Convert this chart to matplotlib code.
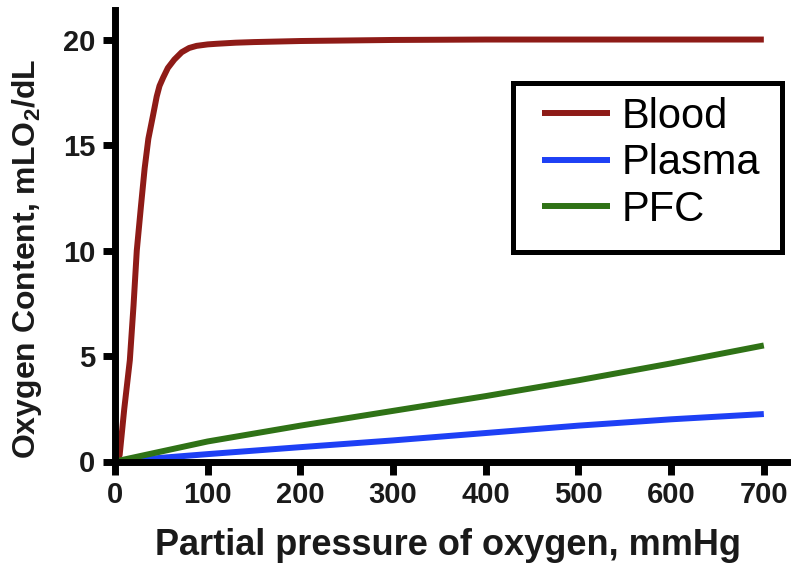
import matplotlib
matplotlib.use("Agg")
import matplotlib.pyplot as plt
from matplotlib.patches import Rectangle

plt.rcParams['font.family'] = ['Liberation Sans', 'DejaVu Sans']
plt.rcParams['mathtext.fontset'] = 'custom'
plt.rcParams['mathtext.bf'] = 'Liberation Sans:bold'
plt.rcParams['mathtext.rm'] = 'Liberation Sans:bold'
plt.rcParams['mathtext.default'] = 'bf'

# Data
blood_x = [0, 5, 10, 16, 20, 23.5, 28, 32, 36, 41, 45, 48, 52, 57, 64, 72, 80, 88, 100, 110, 130, 150, 200, 300, 400, 500, 600, 700]
blood_y = [0, 0.3, 2.5, 4.8, 7.4, 10.0, 12.1, 13.9, 15.3, 16.4, 17.3, 17.8, 18.2, 18.65, 19.05, 19.4, 19.6, 19.7, 19.77, 19.8, 19.85, 19.88, 19.93, 19.98, 20.0, 20.0, 20.0, 20.0]

plasma_x = [0, 100, 200, 300, 400, 500, 600, 700]
plasma_y = [0, 0.35, 0.68, 1.0, 1.35, 1.7, 2.0, 2.25]

pfc_x = [0, 100, 200, 300, 400, 500, 600, 700]
pfc_y = [0, 0.95, 1.7, 2.4, 3.1, 3.85, 4.65, 5.5]

series_labels = ['Blood', 'Plasma', 'PFC']
series_colors = ['#8E1B17', '#1E40F5', '#2F7216']

x_ticks = [0, 100, 200, 300, 400, 500, 600, 700]
y_ticks = [0, 5, 10, 15, 20]

W, H = 800, 574
fig = plt.figure(figsize=(W / 100, H / 100), dpi=100)
ax = fig.add_axes([115 / W, 1 - 461.5 / H, (787 - 115) / W, (461.5 - 10) / H])

lw = 4.3
ax.plot(blood_x, blood_y, color=series_colors[0], lw=lw, label=series_labels[0], solid_capstyle='butt', solid_joinstyle='round', zorder=3)
ax.plot(plasma_x, plasma_y, color=series_colors[1], lw=lw, label=series_labels[1], solid_capstyle='butt', zorder=3)
ax.plot(pfc_x, pfc_y, color=series_colors[2], lw=lw, label=series_labels[2], solid_capstyle='butt', zorder=4)

ax.set_xlim(0, 725)
ax.set_ylim(0, 21.4)
ax.set_xticks(x_ticks)
ax.set_yticks(y_ticks)

for s in ['top', 'right']:
    ax.spines[s].set_visible(False)
for s in ['left', 'bottom']:
    ax.spines[s].set_linewidth(5)
    ax.spines[s].set_zorder(5)

ax.tick_params(axis='both', direction='out', length=9, width=5, labelsize=21, pad=5)
for lab in ax.get_xticklabels() + ax.get_yticklabels():
    lab.set_fontweight('bold')
    lab.set_color('#1a1a1a')

ax.set_xlabel('Partial pressure of oxygen, mmHg', fontsize=26, fontweight='bold', color='#1a1a1a')
ax.set_ylabel(r'Oxygen Content, mLO$_2$/dL', fontsize=23, fontweight='bold', color='#1a1a1a')
ax.xaxis.set_label_coords(0.495, -0.148)
ax.yaxis.set_label_coords(-0.106, 0.45)

# legend box
fig.patches.append(Rectangle((513 / W, 1 - 252 / H), (782 - 513) / W, (252 - 83) / H,
                             transform=fig.transFigure, fill=True, facecolor='white',
                             edgecolor='black', lw=3.6, zorder=6))
leg = fig.legend(loc='upper left', bbox_to_anchor=(542 / W, 1 - 97 / H), frameon=False,
                 fontsize=30, handlelength=1.63, handletextpad=0.29, labelspacing=0.15,
                 borderpad=0, borderaxespad=0)
leg.set_zorder(7)

fig.savefig('out.png', dpi=100)
